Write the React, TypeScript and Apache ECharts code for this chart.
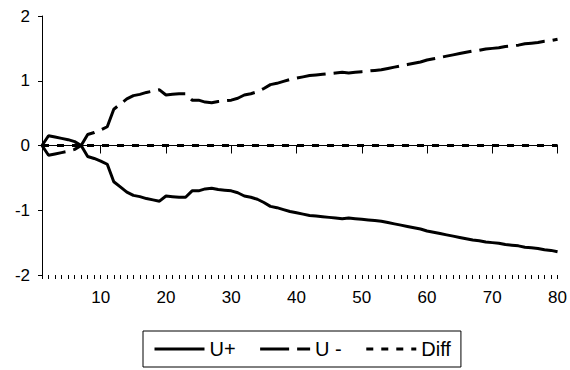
import React, { useEffect, useRef } from "react";
import * as echarts from "echarts";

const periods: number[] = Array.from({ length: 80 }, (_, i) => i + 1);

const uPlus: number[] = [
  0, 0.15, 0.13, 0.11, 0.09, 0.06, 0.0, -0.17, -0.2, -0.24,
  -0.29, -0.56, -0.64, -0.72, -0.77, -0.79, -0.82, -0.84, -0.86, -0.78,
  -0.79, -0.8, -0.8, -0.7, -0.7, -0.67, -0.66, -0.68, -0.69, -0.7,
  -0.73, -0.78, -0.8, -0.83, -0.88, -0.94, -0.96, -0.99, -1.02, -1.04,
  -1.06, -1.08, -1.09, -1.1, -1.11, -1.12, -1.13, -1.12, -1.13, -1.14,
  -1.15, -1.16, -1.17, -1.19, -1.21, -1.23, -1.25, -1.27, -1.29, -1.32,
  -1.34, -1.36, -1.38, -1.4, -1.42, -1.44, -1.46, -1.47, -1.49, -1.5,
  -1.51, -1.53, -1.54, -1.55, -1.57, -1.58, -1.59, -1.61, -1.62, -1.64,
];

const uMinus: number[] = [
  0, -0.15, -0.13, -0.11, -0.09, -0.06, 0.0, 0.17, 0.2, 0.24,
  0.29, 0.56, 0.64, 0.72, 0.77, 0.79, 0.82, 0.84, 0.86, 0.78,
  0.79, 0.8, 0.8, 0.7, 0.7, 0.67, 0.66, 0.68, 0.69, 0.7,
  0.73, 0.78, 0.8, 0.83, 0.88, 0.94, 0.96, 0.99, 1.02, 1.04,
  1.06, 1.08, 1.09, 1.1, 1.11, 1.12, 1.13, 1.12, 1.13, 1.14,
  1.15, 1.16, 1.17, 1.19, 1.21, 1.23, 1.25, 1.27, 1.29, 1.32,
  1.34, 1.36, 1.38, 1.4, 1.42, 1.44, 1.46, 1.47, 1.49, 1.5,
  1.51, 1.53, 1.54, 1.55, 1.57, 1.58, 1.59, 1.61, 1.62, 1.64,
];

const diff: number[] = periods.map(() => 0);

const majorTicks: number[] = [10, 20, 30, 40, 50, 60, 70, 80];
const seriesNames: string[] = ["U+", "U -", "Diff"];

const FONT = "'Liberation Sans', Arial, sans-serif";

export default function App() {
  const ref = useRef<HTMLDivElement>(null);
  useEffect(() => {
    if (!ref.current) return;
    const chart = echarts.init(ref.current, null, { renderer: "svg" });
    const pairs = (vals: number[]) => periods.map((p, i) => [p, vals[i]]);
    chart.setOption({
      animation: false,
      backgroundColor: "#fff",
      textStyle: { fontFamily: FONT, color: "#000" },
      grid: { left: 42, right: 12, top: 16, bottom: 95, containLabel: false },
      legend: {
        left: 143,
        top: 331,
        padding: [8, 10, 8, 10],
        borderColor: "#000",
        borderWidth: 1,
        itemWidth: 50,
        itemHeight: 14,
        itemGap: 23,
        data: seriesNames,
        itemStyle: { color: "transparent", borderWidth: 0, opacity: 0 },
        lineStyle: { width: 3 },
        textStyle: { fontFamily: FONT, fontSize: 20, color: "#000" },
      },
      xAxis: [
        {
          type: "value",
          min: 1,
          max: 80,
          axisLine: { show: true, lineStyle: { color: "#000", width: 1 } },
          axisTick: {
            show: true,
            length: 8,
            customValues: majorTicks,
            lineStyle: { color: "#000", width: 1 },
          },
          axisLabel: {
            customValues: majorTicks,
            fontSize: 17,
            color: "#000",
            fontFamily: FONT,
            margin: 14,
          },
          splitLine: { show: false },
        },
        {
          type: "value",
          min: 1,
          max: 80,
          position: "bottom",
          axisLine: { show: false },
          axisTick: {
            show: true,
            length: 4,
            customValues: periods,
            lineStyle: { color: "#000", width: 1 },
          },
          axisLabel: { show: false },
          splitLine: { show: false },
        },
      ],
      yAxis: {
        type: "value",
        min: -2,
        max: 2,
        interval: 1,
        axisLine: { show: true, lineStyle: { color: "#000", width: 1 } },
        axisTick: { show: true, length: 4, lineStyle: { color: "#000", width: 1 } },
        axisLabel: { fontSize: 17, color: "#000", fontFamily: FONT, margin: 12 },
        splitLine: { show: false },
      },
      series: [
        {
          name: seriesNames[0],
          type: "line",
          xAxisIndex: 0,
          data: pairs(uPlus),
          symbol: "none",
          lineStyle: { color: "#000", width: 3, type: "solid" },
          itemStyle: { color: "#000" },
        },
        {
          name: seriesNames[1],
          type: "line",
          xAxisIndex: 0,
          data: pairs(uMinus),
          symbol: "none",
          lineStyle: { color: "#000", width: 3, type: [29, 8] },
          itemStyle: { color: "#000" },
        },
        {
          name: seriesNames[2],
          type: "line",
          xAxisIndex: 0,
          data: pairs(diff),
          symbol: "none",
          lineStyle: { color: "#000", width: 3, type: [7, 8] },
          itemStyle: { color: "#000" },
          markLine: {
            silent: true,
            symbol: "none",
            label: { show: false },
            lineStyle: { color: "#000", width: 1, type: "solid" },
            data: [{ yAxis: 0 }],
          },
        },
      ],
    });
    return () => chart.dispose();
  }, []);
  return (
    <div
      ref={ref}
      style={{ position: "absolute", left: 0, top: 0, width: 570, height: 370 }}
    />
  );
}
